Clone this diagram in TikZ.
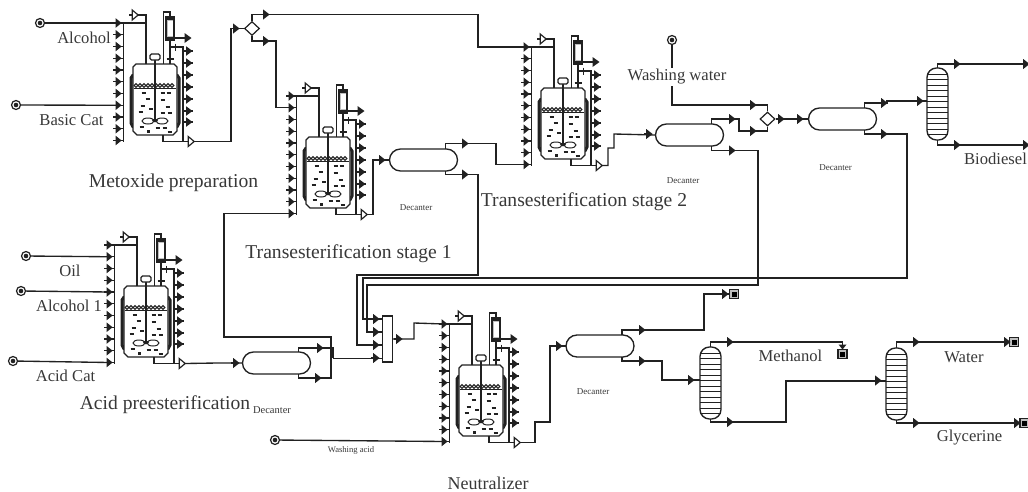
\documentclass[tikz,border=0pt]{standalone}
\usepackage{fontspec}
\setmainfont{Liberation Serif}
\usetikzlibrary{shapes.geometric,shapes.misc}
\definecolor{ink}{gray}{0.13}
\definecolor{txt}{gray}{0.22}
\tikzset{
  x=1pt,y=-1pt,
  flow/.style={draw=ink,line width=1.35pt,line join=miter},
  thin flow/.style={draw=ink,line width=0.9pt},
  lab/.style={font=\fontsize{16.6}{18}\selectfont,text=txt,inner sep=0pt},
  big/.style={font=\fontsize{19.6}{22}\selectfont,text=txt,inner sep=0pt},
  tiny/.style={font=\fontsize{9}{10}\selectfont,text=txt,inner sep=0pt},
  decant/.style={rounded rectangle,draw=ink,line width=1.35pt,minimum width=68pt,minimum height=22pt,inner sep=0pt,fill=white},
  colbody/.style={rectangle,rounded corners=9.5pt,draw=ink,line width=1.35pt,minimum width=21pt,minimum height=72pt,inner sep=0pt},
  split/.style={diamond,draw=ink,line width=1.2pt,minimum width=15pt,minimum height=14pt,inner sep=0pt,fill=white},
  srcnode/.style={circle,draw=ink,line width=1.2pt,minimum size=9pt,inner sep=0pt,fill=white},
  sinknode/.style={rectangle,draw=ink,line width=1.2pt,minimum size=9pt,inner sep=0pt,fill=black!25},
  mk/.pic={\fill[ink] (-2.8,-5)--(3.6,0)--(-2.8,5)--cycle; \draw[ink,line width=1.2pt] (-5.5,0)--(0,0);},
  hol/.pic={\draw[ink,line width=1.2pt,fill=white] (-2.8,-5)--(3.2,0)--(-2.8,5)--cycle;},
}
\newcommand{\mkat}[2]{\pic at (#1,#2) {mk};}
\newcommand{\reactor}[3]{%
 \begin{scope}[shift={(#2,#3)}]
  % feed rail with its row of stub arrows
  \draw[flow] (123.5,23)--(123.5,141.5);
  \foreach \k in {0,...,10}{
    \pgfmathsetmacro\yy{23+11.75*\k}
    \coordinate (#1-i\k) at (118,\yy);
    \draw[ink,line width=1.2pt] (113,\yy)--(123.5,\yy);
    \fill[ink] (115.6,\yy-4.8)--(121.6,\yy)--(115.6,\yy+4.8)--cycle;
  }
  % vent
  \draw[flow] (123.5,23)--(146,23);
  \draw[flow] (146,64)--(146,15)--(138,15);
  \pic at (135,15) {hol};
  \draw[ink,line width=1.2pt] (129,15)--(132,15);
  % condenser
  \draw[flow] (163.5,64)--(163.5,12)--(170,12)--(170,17);
  \draw[ink,line width=1.2pt,fill=black!25] (166,17) rectangle (174,40);
  \fill[white] (167.5,21) rectangle (172.5,36);
  \draw[ink,line width=2pt] (166,19)--(174,19) (166,38)--(174,38);
  \draw[flow] (170,40)--(170,64);
  \draw[ink,line width=1.2pt] (166.5,59)--(173.5,59);
  \draw[flow] (174,38)--(186,38);
  \fill[ink] (184.5,33)--(191.5,38)--(184.5,43)--cycle;
  % reflux and product rail
  \draw[flow] (170,47)--(183,47)--(183,141);
  \draw[ink,line width=1.2pt] (175.5,43.5)--(175.5,50.5);
  \foreach \yy in {51,63,75,87,99,111,122}{
    \draw[ink,line width=1.2pt] (183,\yy)--(193,\yy);
    \fill[ink] (186,\yy-4.8)--(192.5,\yy)--(186,\yy+4.8)--cycle;
  }
  % jacket
  \draw[ink,line width=3pt,line cap=round] (133,75)--(131,78)--(131,123)--(133,127);
  \draw[ink,line width=3pt,line cap=round] (177,75)--(179,78)--(179,123)--(177,127);
  % vessel
  \draw[ink,line width=1.3pt,fill=white] (136,64)--(174,64)--(177,67)--(177,131)--(173,135)--(137,135)--(133,131)--(133,67)--cycle;
  % liquid surface
  \draw[ink,line width=0.9pt] (134,88)--(176,88);
  \foreach \xx in {136,140,...,174}{\draw[ink,line width=1pt] (\xx,85.5) circle (1.9);}
  % agitator
  \draw[ink,line width=1.5pt] (155,60)--(155,120);
  \draw[ink,line width=1.1pt,fill=white,rounded corners=1.5pt] (150,54) rectangle (160,60);
  \draw[ink,line width=1pt,fill=white] (148,121) ellipse (6 and 3);
  \draw[ink,line width=1pt,fill=white] (162,121) ellipse (6 and 3);
  \fill[ink] (155,120.5) ellipse (2.8 and 1.8);
  % liquid dashes
  \foreach \a/\b in {144/93,163/93,169/93,148/99,163/100,143/106,168/107,141/112,163/113,170/113,158/128,165/128,142/127,170/132}{
    \draw[ink,line width=1.1pt] (\a-2.4,\b)--(\a+2.4,\b);}
  \fill[ink] (149,107.5) rectangle (153,110);
  \fill[ink] (146.5,130) rectangle (149.5,132.5);
  % outlet
  \draw[flow] (163,135)--(163,141.5)--(188,141.5);
  \pic at (191,141.5) {hol};
  \coordinate (#1-out) at (194.2,141.5);
 \end{scope}}
\newcommand{\decanter}[3]{%
 \node[decant] (#1) at (#2,#3) {};
 \coordinate (#1-in) at (#2-34,#3);
 \coordinate (#1-t) at (#2+22,#3-11);
 \coordinate (#1-b) at (#2+22,#3+11);}
\newcommand{\column}[3]{%
 \node[colbody] (#1) at (#2,#3+36) {};
 \foreach \k in {1,...,12}{
   \draw[ink,line width=0.95pt] (#2-10.5,#3+5.5*\k+0.5)--(#2+10.5,#3+5.5*\k+0.5);}
 \coordinate (#1-t) at (#2,#3);
 \coordinate (#1-b) at (#2,#3+72);
 \coordinate (#1-in) at (#2-10.5,#3+33);}
\newcommand{\source}[3]{%
 \node[srcnode] (#1) at (#2,#3) {};
 \fill[ink] (#2,#3) circle (2.3);}
\newcommand{\sink}[3]{%
 \node[sinknode] (#1) at (#2,#3) {};
 \fill[black] (#2-2.5,#3-2.5) rectangle (#2+2.5,#3+2.5);}
\begin{document}
\begin{tikzpicture}
\useasboundingbox (0,0) rectangle (1028,491);
\fill[white] (0,0) rectangle (1028,491);
% ---- equipment
\reactor{R1}{0}{0}
\reactor{R2}{173}{73}
\reactor{R3}{408}{24}
\reactor{R4}{-9}{222}
\reactor{R5}{326}{301}
\decanter{D1}{423.5}{160}
\decanter{D2}{689.5}{135}
\decanter{D3}{842.5}{119}
\decanter{D4}{276.5}{363}
\decanter{D5}{600}{346}
\column{C1}{937.5}{68}
\column{C2}{710.5}{347}
\column{C3}{896.5}{348}
\node[split] (S1) at (252,28.5) {};
\node[split] (S2) at (767.5,119) {};
\node[rectangle,draw=ink,line width=1.35pt,minimum width=10pt,minimum height=46pt,inner sep=0pt,fill=white] (MX) at (387.5,339) {};
\source{sA}{40}{23}
\source{sB}{16}{105}
\source{sO}{26}{256}
\source{sAl}{21}{291}
\source{sAc}{13}{361}
\source{sWw}{672}{40}
\source{sWa}{275}{440}
\sink{kM}{734}{294}
\sink{kMe}{842.5}{354}
\sink{kW}{1014}{342}
\sink{kG}{1024.5}{423}
% ---- feeds
\draw[flow] (sA)--(R1-i0);
\draw[flow] (sB)--(R1-i7);
\draw[flow] (sO)--(R4-i1);
\draw[flow] (sAl)--(R4-i4);
\draw[flow] (sAc)--(R4-i10);
\draw[flow] (sWa)--(R5-i10);
% ---- connectors
\draw[flow] (R1-out)-|(231,28.5)--(S1.west);
\mkat{236}{28.5}
\draw[flow] (S1.north)|-(478,14.5)|-(R3-i0);
\mkat{266}{14.5}
\draw[flow] (S1.south)|-(276,41)|-(R2-i1);
\mkat{266}{41}
\draw[flow] (R2-out)-|(373,160)--(D1-in);
\mkat{382}{160}
\draw[flow] (D1-t)|-(496,143.5)|-(R3-i10);
\mkat{465}{143.5}
\draw[flow] (D1-b)|-(478,174.5)--(478,275)--(357,275)|-(MX.west|-0,345);
\mkat{465}{174.5}
\draw[flow] (R3-out)-|(608,148)-|(614,134)--(D2-in);
\mkat{649}{134}
\draw[flow] (D2-t)|-(739,119)--(739,131)--(767.5,131)--(S2.south);
\mkat{732}{119}
\mkat{753}{131}
\draw[flow] (sWw)--(672,105)-|(S2.north);
\mkat{753}{105}
\draw[flow] (D2-b)|-(758,150.5)--(758,285)--(367,285)|-(MX.west|-0,332);
\mkat{732}{150.5}
\draw[flow] (S2.east)--(D3-in);
\mkat{781}{119}
\mkat{800}{119}
\draw[flow] (D3-t)|-(887,103)--(887,101)--(C1-in);
\mkat{884}{103}
\mkat{920}{101}
\draw[flow] (D3-b)|-(907,134)--(907,278)--(363,278)|-(MX.west|-0,319);
\mkat{884}{134}
\draw[flow] (C1-t)|-(1028,64);
\mkat{957}{64}
\mkat{1026}{64}
\draw[flow] (C1-b)|-(1028,145);
\mkat{957}{145}
\mkat{1026}{145}
\draw[flow] (R4-out)--(217,363)--(D4-in);
\mkat{236}{363}
\draw[flow] (D4-t)|-(333,348)--(333,358);
\draw[thin flow] (333,358)--(MX.west|-0,358);
\mkat{320}{348}
\draw[flow] (D4-b)|-(331,378)|-(224,337)|-(R2-i10);
\mkat{318}{378}
\draw[flow] (MX.east|-0,339)-|(414,323)--(R5-i0);
\mkat{399}{339}
\mkat{376}{319}
\mkat{376}{332}
\mkat{376}{345}
\mkat{376}{358}
\draw[flow] (R5-out)-|(535,422)-|(550,346)--(D5-in);
\mkat{559}{346}
\draw[flow] (D5-t)|-(704,330)|-(kM.west);
\mkat{642}{330}
\mkat{725}{294}
\draw[flow] (D5-b)|-(662,361)|-(C2-in);
\mkat{642}{361}
\mkat{691}{380}
\draw[flow] (C2-t)|-(842.5,342)--(kMe.north);
\mkat{730}{342}
\fill[ink] (838.5,344.5)--(846.5,344.5)--(842.5,349.5)--cycle;
\draw[flow] (C2-b)|-(786,422)|-(C3-in);
\mkat{730}{422}
\mkat{878}{380.5}
\draw[flow] (C3-t)|-(kW.west);
\mkat{916}{342}
\mkat{1007}{342}
\draw[flow] (C3-b)|-(kG.west);
\mkat{916}{423}
\mkat{1017}{423}
% ---- labels
\node[lab] (t1) at (84,37.5) {Alcohol};
\node[lab] (t2) at (71.5,120) {Basic Cat};
\node[big] (t3) at (173.5,183) {Metoxide preparation};
\node[big] (t4) at (348.5,254) {Transesterification stage 1};
\node[big] (t5) at (584,201.5) {Transesterification stage 2};
\node[lab,fill=white,inner ysep=1pt] (t6) at (677,77) {Washing water};
\node[lab] (t7) at (995.5,159) {Biodiesel};
\node[tiny] (t8) at (416,207.5) {Decanter};
\node[tiny] (t9) at (683,180.5) {Decanter};
\node[tiny] (t10) at (835.5,167.5) {Decanter};
\node[tiny] (t11) at (593,391.5) {Decanter};
\node[font=\fontsize{10.5}{12}\selectfont,text=txt,inner sep=0pt] (t12) at (272,410) {Decanter};
\node[big] (t13) at (165,405) {Acid preesterification};
\node[lab] (t14) at (70,271) {Oil};
\node[lab] (t15) at (69,306) {Alcohol 1};
\node[lab] (t16) at (65.5,376) {Acid Cat};
\node[lab] (t17) at (790.5,356) {Methanol};
\node[lab] (t18) at (964,357) {Water};
\node[lab] (t19) at (969.5,438) {Glycerine};
\node[tiny,font=\fontsize{8.6}{10}\selectfont] (t20) at (351,450) {Washing acid};
\node[font=\fontsize{18}{20}\selectfont,text=txt,inner sep=0pt] (t21) at (488,483) {Neutralizer};
\end{tikzpicture}
\end{document}
